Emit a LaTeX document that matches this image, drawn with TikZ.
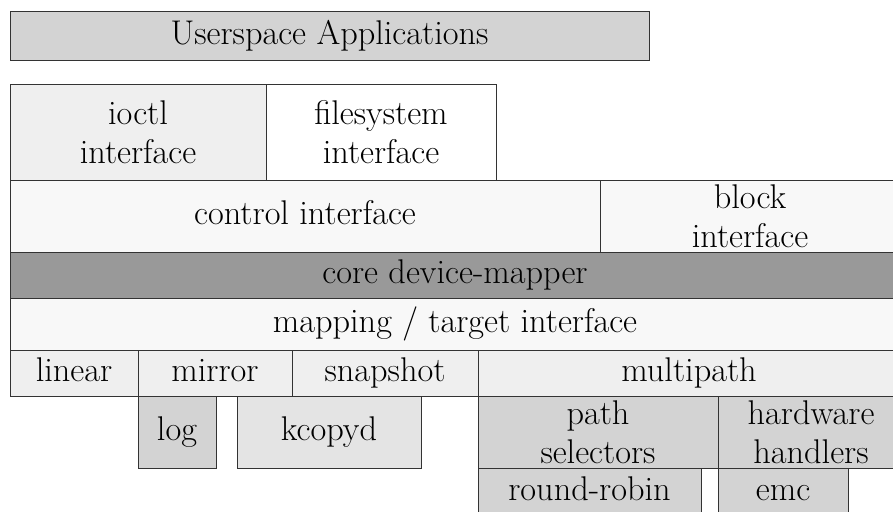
\documentclass[tikz,border=0pt]{standalone}
\usepackage{fontspec}
\definecolor{bordc}{HTML}{333333}
\definecolor{gA}{HTML}{D3D3D3}
\definecolor{gB}{HTML}{EFEFEF}
\definecolor{gC}{HTML}{F8F8F8}
\definecolor{gD}{HTML}{999999}
\definecolor{gE}{HTML}{E4E4E4}
\begin{document}
\begin{tikzpicture}[x=1pt,y=-1pt,
  blk/.style={draw=bordc, line width=1pt, inner sep=0pt, align=center,
    font=\rmfamily\fontsize{34.3}{39}\selectfont},
  oneline/.style={blk, text height=24pt, text depth=7pt}]
\useasboundingbox (0,0) rectangle (893,511);
\clip (0,0) rectangle (893,511);
\fill[white] (0,0) rectangle (893,511);
\node[oneline, fill=gA, minimum width=639pt, minimum height=48pt] (user) at (329.5,36) {Userspace Applications};
\node[blk, fill=gB, minimum width=256pt, minimum height=96pt] (ioctl) at (138,132) {ioctl\\interface};
\node[blk, fill=white, minimum width=230pt, minimum height=96pt] (fs) at (381,132) {filesystem\\interface};
\node[oneline, fill=gC, minimum width=590pt, minimum height=72pt] (ctrl) at (305,216) {control interface};
\node[blk, fill=gC, minimum width=300pt, minimum height=72pt] (blockif) at (750,216) {block\\interface};
\node[oneline, fill=gD, minimum width=890pt, minimum height=46pt] (core) at (455,275) {core device-mapper};
\node[oneline, fill=gC, minimum width=890pt, minimum height=52pt] (map) at (455,324) {mapping / target interface};
\node[oneline, fill=gB, minimum width=128pt, minimum height=46pt] (linear) at (74,373) {linear};
\node[oneline, fill=gB, minimum width=154pt, minimum height=46pt] (mirror) at (215,373) {mirror};
\node[oneline, fill=gB, minimum width=186pt, minimum height=46pt] (snap) at (385,373) {snapshot};
\node[oneline, fill=gB, minimum width=422pt, minimum height=46pt] (multi) at (689,373) {multipath};
\node[oneline, fill=gA, minimum width=78pt, minimum height=72pt] (log) at (177,432) {log};
\node[oneline, fill=gE, minimum width=184pt, minimum height=72pt] (kcopyd) at (329,432) {kcopyd};
\node[blk, fill=gA, minimum width=240pt, minimum height=72pt] (psel) at (598,432) {path\\selectors};
\node[blk, fill=gA, minimum width=186pt, minimum height=72pt] (hw) at (811,432) {hardware\\handlers};
\node[oneline, fill=gA, minimum width=223pt, minimum height=48pt] (rr) at (589.5,492) {round-robin};
\node[oneline, fill=gA, minimum width=130pt, minimum height=48pt] (emc) at (783,492) {emc};
\end{tikzpicture}
\end{document}
